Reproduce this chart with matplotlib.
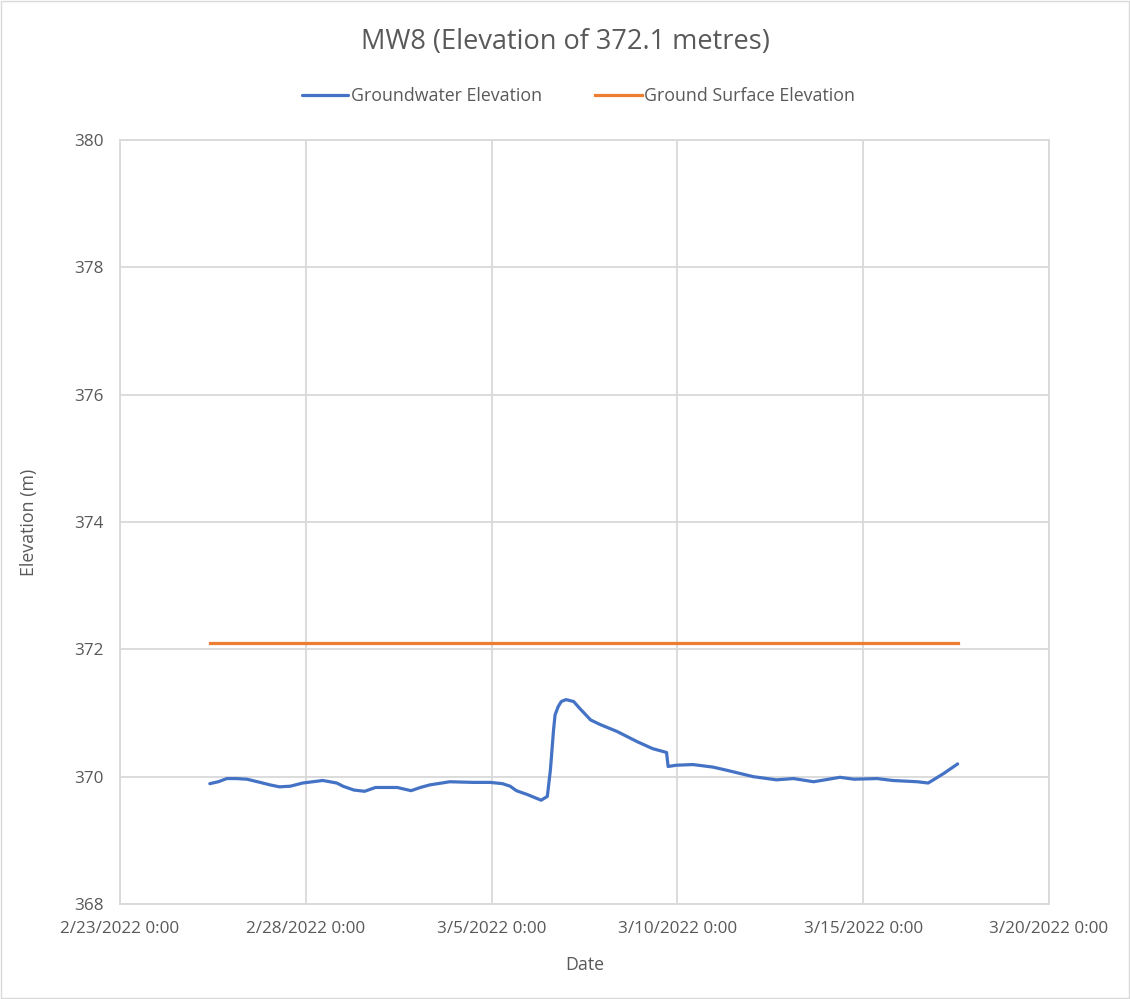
import pandas as pd
import matplotlib
matplotlib.use('Agg')
import matplotlib.pyplot as plt

# groundwater readings
gw_time = ['2022-02-25 10:00', '2022-02-25 15:30', '2022-02-25 21:00', '2022-02-26 03:00',
           '2022-02-26 10:00', '2022-02-26 18:30', '2022-02-27 01:00', '2022-02-27 07:00',
           '2022-02-27 14:00', '2022-02-27 22:00', '2022-02-28 11:00', '2022-02-28 20:00',
           '2022-03-01 00:00', '2022-03-01 07:00', '2022-03-01 14:00', '2022-03-01 21:00',
           '2022-03-02 04:00', '2022-03-02 11:00', '2022-03-02 20:00', '2022-03-03 02:00',
           '2022-03-03 08:00', '2022-03-03 21:00', '2022-03-04 12:00', '2022-03-04 23:00',
           '2022-03-05 07:00', '2022-03-05 12:00', '2022-03-05 16:00', '2022-03-05 23:00',
           '2022-03-06 08:00', '2022-03-06 12:00', '2022-03-06 14:00', '2022-03-06 16:00',
           '2022-03-06 17:00', '2022-03-06 19:00', '2022-03-06 21:00', '2022-03-07 00:00',
           '2022-03-07 05:00', '2022-03-07 09:00', '2022-03-07 16:00', '2022-03-07 22:00',
           '2022-03-08 09:00', '2022-03-08 22:00', '2022-03-09 08:00', '2022-03-09 17:00',
           '2022-03-09 18:00', '2022-03-09 23:30', '2022-03-10 10:00', '2022-03-10 23:00',
           '2022-03-11 08:00', '2022-03-12 01:00', '2022-03-12 16:00', '2022-03-13 03:00',
           '2022-03-13 16:00', '2022-03-14 09:00', '2022-03-14 18:00', '2022-03-15 09:00',
           '2022-03-15 19:00', '2022-03-16 11:00', '2022-03-16 18:00', '2022-03-17 04:00',
           '2022-03-17 13:00']
gw_elev = [369.89, 369.92, 369.97, 369.97, 369.96, 369.91, 369.87, 369.84,
           369.85, 369.90, 369.94, 369.90, 369.85, 369.79, 369.77, 369.83,
           369.83, 369.83, 369.78, 369.83, 369.87, 369.92, 369.91, 369.91,
           369.89, 369.85, 369.78, 369.72, 369.63, 369.69, 370.11, 370.73,
           370.97, 371.10, 371.18, 371.21, 371.18, 371.07, 370.89, 370.82,
           370.71, 370.55, 370.44, 370.38, 370.16, 370.18, 370.19, 370.15,
           370.10, 370.00, 369.95, 369.97, 369.92, 369.99, 369.96, 369.97,
           369.94, 369.92, 369.90, 370.05, 370.20]

gs_time = ['2022-02-25 10:00', '2022-03-17 13:00']
gs_elev = [372.1, 372.1]

x_ticks = ['2022-02-23', '2022-02-28', '2022-03-05', '2022-03-10', '2022-03-15', '2022-03-20']
y_ticks = [368, 370, 372, 374, 376, 378, 380]

txt = '#595959'
grid_c = '#d9d9d9'
plt.rcParams['font.family'] = ['Open Sans', 'DejaVu Sans']

fig = plt.figure(figsize=(11.3, 9.99), dpi=100)
ax = fig.add_axes([0.1062, 0.0951, 0.8221, 0.7648])

ax.plot(pd.to_datetime(gw_time), gw_elev, color='#4472c4', lw=2.3,
        label='Groundwater Elevation', solid_capstyle='round', solid_joinstyle='round')
ax.plot(pd.to_datetime(gs_time), gs_elev, color='#ed7d31', lw=2.3,
        label='Ground Surface Elevation')

xt = pd.to_datetime(x_ticks)
ax.set_xlim(xt[0], xt[-1])
ax.set_xticks(xt)
ax.set_xticklabels([f'{d.month}/{d.day}/{d.year} 0:00' for d in xt])
ax.set_ylim(368, 380)
ax.set_yticks(y_ticks)

ax.grid(True, color=grid_c, lw=1.3)
ax.set_axisbelow(True)
for s in ax.spines.values():
    s.set_color(grid_c)
    s.set_linewidth(1.3)
ax.tick_params(length=0, colors=txt, labelsize=12.3, pad=12)

ax.set_xlabel('Date', color=txt, fontsize=12.8, labelpad=14)
ax.set_ylabel('Elevation (m)', color=txt, fontsize=12.8, labelpad=26)
fig.suptitle('MW8 (Elevation of 372.1 metres)', color=txt, fontsize=19.5, y=0.972)

leg = fig.legend(loc='center', bbox_to_anchor=(0.512, 0.904), ncol=2, frameon=False,
                 fontsize=12.8, handlelength=2.6, handletextpad=0.15, columnspacing=3.0)
for t in leg.get_texts():
    t.set_color(txt)

# light outer border like the chart area
fig.patches.append(plt.Rectangle((0.001, 0.001), 0.998, 0.998, transform=fig.transFigure,
                                 fill=False, edgecolor=grid_c, lw=1))

fig.savefig('out.png', dpi=100)
